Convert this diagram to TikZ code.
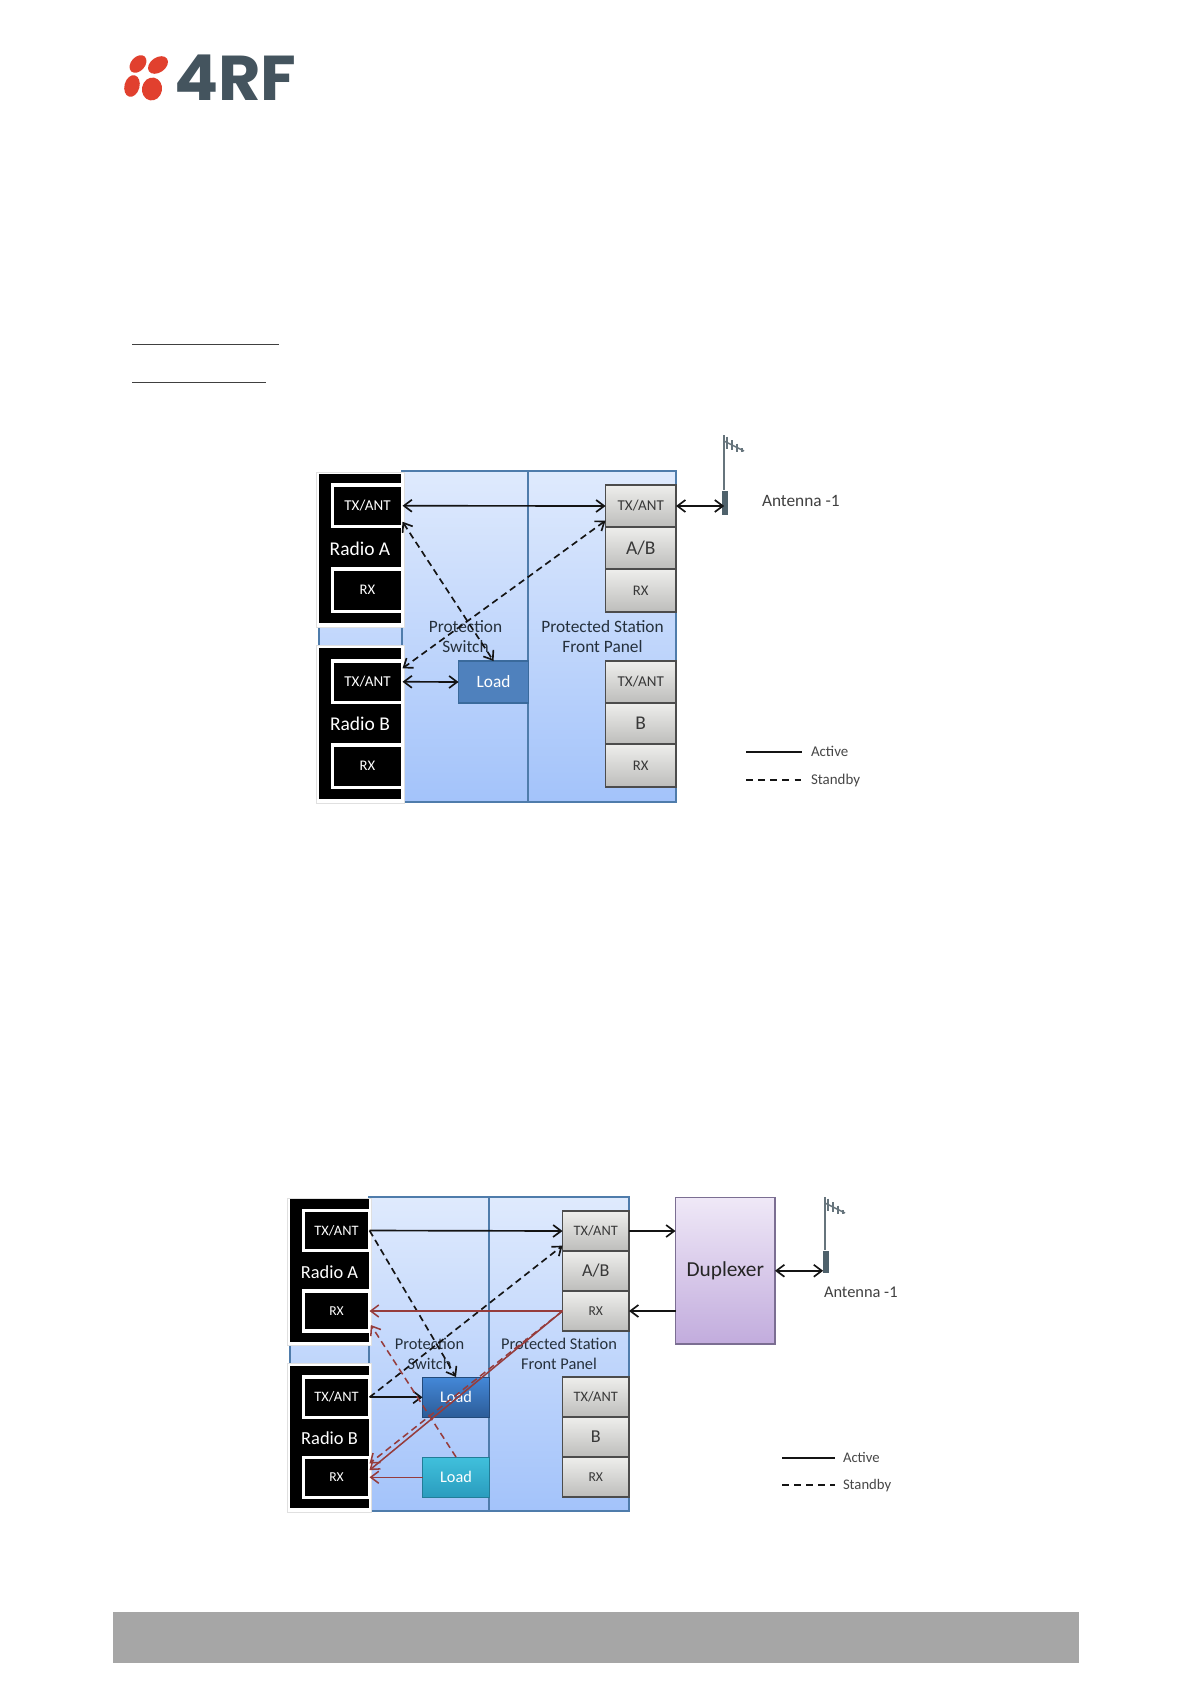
\documentclass[tikz,border=0pt]{standalone}
\usepackage{fontspec}
\setmainfont{Carlito}
\newfontfamily\logofont{Poppins}
\usetikzlibrary{arrows.meta,shadows,calc}
\newcommand\bx[7]{\node[#1,minimum width={(#5-#3)*0.75pt},minimum height={(#6-#4)*0.75pt}] (#2) at ({(#3+#5)/2},{(#4+#6)/2}) {#7};}
\newcommand\lb[2]{\raisebox{-.7pt}{\fontsize{#1}{#1}\selectfont #2}}
\newcommand\mast[3]{% x, top y, mast bottom y
  \draw[mastline,line width=1.4pt] (#1,#2) -- (#1,#3);
  \draw[mastline] (#1,#2+6) -- ++(20,10);
  \foreach \d/\l in {3/6,8/5,13/4,18/2}{\draw[mastline] (#1+\d,#2+6+\d/2-\l) -- ++(0,2*\l);}
}
\tikzset{
  every node/.style={inner sep=0pt,outer sep=0pt},
  >={Straight Barb[length=6pt,width=9pt,line width=1.25pt]},
  conn/.style={line width=1.25pt,black!92},
  dashconn/.style={conn,dash pattern=on 5pt off 3.2pt},
  redconn/.style={conn,draw=redc,line width=1.15pt,>={Straight Barb[length=6pt,width=9pt,line width=1.15pt]}},
  reddash/.style={redconn,dash pattern=on 5pt off 3.2pt},
  panel/.style={draw=panelline,line width=0.85pt,top color=paneltop,bottom color=panelbot,shading angle=0},
  radioouter/.style={fill=white,draw=black!12,line width=.4pt,drop shadow={shadow xshift=1pt,shadow yshift=-1pt,fill=black!35,opacity=.5}},
  radiofill/.style={fill=black},
  port/.style={fill=black,draw=white,line width=2.6pt,text=white,align=center},
  stackbox/.style={draw=black!70,line width=.85pt,top color=stacktop,bottom color=stackbot,text=black!78,drop shadow={shadow xshift=.8pt,shadow yshift=-.8pt,fill=black!30,opacity=.5}},
  loadflat/.style={fill=loadblue,draw=loadedge,line width=1.2pt,text=white},
  loaddark/.style={top color=loadA,bottom color=loadB,draw=loadB!80!black,line width=.5pt,text=white},
  loadcyan/.style={top color=cyanA,bottom color=cyanB,draw=cyanB!80!black,line width=.5pt,text=white},
  duplexbox/.style={top color=dupA,bottom color=dupB,draw=dupE,line width=1pt,text=black!85,drop shadow={shadow xshift=1pt,shadow yshift=-1pt,fill=black!30,opacity=.5}},
  plabel/.style={text=labelc,align=center},
  mastline/.style={draw=mastc,line width=1.1pt},
  antbody/.style={fill=bodyc},
  legendtxt/.style={text=black!72,anchor=west},
  rule/.style={draw=black!75,line width=.7pt},
}
\definecolor{panelline}{HTML}{4F7CAB}
\definecolor{paneltop}{HTML}{DFEAFD}
\definecolor{panelbot}{HTML}{A3C3FA}
\definecolor{stacktop}{HTML}{EEEEEC}
\definecolor{stackbot}{HTML}{BDBDBB}
\definecolor{loadblue}{HTML}{4F81BD}
\definecolor{loadedge}{HTML}{3A6A9C}
\definecolor{loadA}{HTML}{4488D8}
\definecolor{loadB}{HTML}{2C5C98}
\definecolor{cyanA}{HTML}{40C0DC}
\definecolor{cyanB}{HTML}{2A9CBE}
\definecolor{dupA}{HTML}{EFE8F7}
\definecolor{dupB}{HTML}{C2ACDD}
\definecolor{dupE}{HTML}{7B6E92}
\definecolor{labelc}{HTML}{25303C}
\definecolor{mastc}{HTML}{66747C}
\definecolor{bodyc}{HTML}{4F626C}
\definecolor{logored}{HTML}{E1402E}
\definecolor{logogrey}{HTML}{44545E}
\definecolor{redc}{HTML}{963C3C}
\begin{document}
\begin{tikzpicture}[x=0.75pt,y=-0.75pt]
\useasboundingbox (0,0) rectangle (1191,1683);
\fill[white] (0,0) rectangle (1191,1683);
% ---------- logo
\fill[logored,rotate around={48:(138,64)}] (138,64) ellipse [x radius=10,y radius=7];
\fill[logored,rotate around={35:(158,65)}] (158,65) ellipse [x radius=11,y radius=7.5];
\fill[logored,rotate around={75:(132,86)}] (132,86) ellipse [x radius=11,y radius=7.5];
\fill[logored,rotate around={80:(152,89)}] (152,89) ellipse [x radius=11.5,y radius=10];
\node[text=logogrey,anchor=base west] (logo) at (174,101) {\scalebox{1.03}[1]{\logofont\bfseries\fontsize{47.5}{47.5}\selectfont 4RF}};
% ---------- rules and footer
\coordinate (r1a) at (132,344); \coordinate (r1b) at (279,344);
\coordinate (r2a) at (132,382); \coordinate (r2b) at (266,382);
\draw[rule] (r1a) -- (r1b);
\draw[rule] (r2a) -- (r2b);
\bx{fill=black!35}{footer}{113}{1612}{1079}{1662.5}{}
% ================ TOP DIAGRAM
\bx{panel}{pT0}{319}{490}{402}{790}{}
\bx{panel}{pT1}{402}{471}{528}{802}{}
\bx{panel}{pT2}{528}{471}{676}{802}{}
% radios
\bx{radioouter}{aO}{316}{472}{404}{627}{}
\bx{radiofill}{aK}{319}{474}{401}{623}{}
\bx{radioouter}{bO}{316}{645}{404}{803}{}
\bx{radiofill}{bK}{319}{648}{401}{799}{}
\bx{port}{aTx}{332.5}{485}{402.5}{526.5}{\lb{11.3}{TX/ANT}}
\bx{port}{aRx}{332.5}{569}{402.5}{611.5}{\lb{11}{RX}}
\bx{port}{bTx}{332.5}{661}{402.5}{702.5}{\lb{11.3}{TX/ANT}}
\bx{port}{bRx}{332.5}{745}{402.5}{787.5}{\lb{11}{RX}}
\node[text=white] (aLab) at (360,548.5) {\fontsize{14.6}{15}\selectfont Radio A};
\node[text=white] (bLab) at (360,724) {\fontsize{14.6}{15}\selectfont Radio B};
% right stack
\bx{stackbox}{sTx}{605.5}{485}{676}{527}{\lb{11.3}{TX/ANT}}
\bx{stackbox}{sAB}{605.5}{527}{676}{569}{\lb{14.6}{A/B}}
\bx{stackbox}{sRx}{605.5}{569}{676}{612}{\lb{11}{RX}}
\bx{stackbox}{tTx}{605.5}{661}{676}{703}{\lb{11.3}{TX/ANT}}
\bx{stackbox}{tB}{605.5}{703}{676}{744}{\lb{14.6}{B}}
\bx{stackbox}{tRx}{605.5}{744}{676}{787}{\lb{11}{RX}}
\bx{loadflat}{load}{458.5}{661}{528.5}{703}{\lb{13}{Load}}
\node[plabel,font=\fontsize{13}{15.5}\selectfont] (sw) at (465.5,636.5) {Protection\\Switch};
\node[plabel,font=\fontsize{13}{15.5}\selectfont] (fp) at (602.5,636.5) {Protected Station\\Front Panel};
% antenna
\mast{724}{435}{490}
\bx{antbody}{ant}{721.5}{491}{728}{515}{}
\node[text=black!75,anchor=west] (antT) at (762,500.5) {\fontsize{13}{13}\selectfont Antenna -1};
% arrows
\draw[conn,<->] (aTx.east) -- (sTx.west);
\draw[dashconn,<->] ([yshift=-12pt]aTx.east) -- (load.north);
\draw[dashconn,<->] ([yshift=-11pt]sTx.west) -- ([yshift=10pt]bTx.east);
\draw[conn,<->] (bTx.east) -- (load.west);
\draw[conn,<->] (sTx.east) -- ([xshift=2pt]ant.west |- sTx.east);
% legend
\coordinate (l1a) at (746,752); \coordinate (l1b) at (802,752);
\coordinate (l2a) at (746,780); \coordinate (l2b) at (802,780);
\draw[conn] (l1a) -- (l1b);
\draw[conn,dash pattern=on 5pt off 4.1pt] (l2a) -- (l2b);
\node[legendtxt] (l1t) at (811,751.5) {\fontsize{11.2}{12}\selectfont Active};
\node[legendtxt] (l2t) at (811,780.5) {\fontsize{11.2}{12}\selectfont Standby};
% ================ BOTTOM DIAGRAM
\bx{panel}{qT0}{290}{1210}{369}{1500}{}
\bx{panel}{qT1}{369}{1197}{489}{1511}{}
\bx{panel}{qT2}{489}{1197}{629}{1511}{}
\bx{radioouter}{cO}{287.5}{1198}{371}{1345}{}
\bx{radiofill}{cK}{290}{1199}{369}{1342}{}
\bx{radioouter}{dO}{287.5}{1363}{371}{1512}{}
\bx{radiofill}{dK}{290}{1366}{369}{1508}{}
\bx{port}{cTx}{303.5}{1210.5}{369.5}{1250.5}{\lb{10.8}{TX/ANT}}
\bx{port}{cRx}{303.5}{1291}{369.5}{1331}{\lb{10.2}{RX}}
\bx{port}{dTx}{303.5}{1377}{369.5}{1417.5}{\lb{10.8}{TX/ANT}}
\bx{port}{dRx}{303.5}{1457.5}{369.5}{1497.5}{\lb{10.2}{RX}}
\node[text=white] (cLab) at (329.5,1272) {\fontsize{13.8}{15}\selectfont Radio A};
\node[text=white] (dLab) at (329.5,1438) {\fontsize{13.8}{15}\selectfont Radio B};
\bx{stackbox}{uTx}{562.5}{1211}{629}{1251}{\lb{10.8}{TX/ANT}}
\bx{stackbox}{uAB}{562.5}{1251}{629}{1291}{\lb{13.6}{A/B}}
\bx{stackbox}{uRx}{562.5}{1291}{629}{1331}{\lb{10.2}{RX}}
\bx{stackbox}{vTx}{562.5}{1377}{629}{1417}{\lb{10.8}{TX/ANT}}
\bx{stackbox}{vB}{562.5}{1417}{629}{1457}{\lb{13.6}{B}}
\bx{stackbox}{vRx}{562.5}{1457}{629}{1497}{\lb{10.2}{RX}}
\bx{loaddark}{loadA}{422.5}{1377}{489.5}{1417.5}{\lb{12.2}{Load}}
\bx{loadcyan}{loadB}{422.5}{1457}{489.5}{1497.5}{\lb{12.2}{Load}}
\node[plabel,font=\fontsize{12.3}{15}\selectfont] (sw2) at (429.5,1354) {Protection\\Switch};
\node[plabel,font=\fontsize{12.3}{15}\selectfont] (fp2) at (559,1354) {Protected Station\\Front Panel};
\bx{duplexbox}{dup}{675.5}{1197.5}{775}{1344}{\raisebox{-1.4pt}{\fontsize{16}{17}\selectfont Duplexer}}
\mast{825}{1197}{1250}
\bx{antbody}{ant2}{822.5}{1251}{828.5}{1273}{}
\node[text=black!75,anchor=west] (antT2) at (824,1292.5) {\fontsize{12.3}{13}\selectfont Antenna -1};
% arrows
\draw[conn,->] (cTx.east) -- (uTx.west);
\draw[dashconn,->] (cTx.east) -- (loadA.north);
\draw[dashconn,->] (dTx.east) -- ([yshift=-11pt]uTx.west);
\draw[conn,->] (dTx.east) -- (loadA.west);
\draw[conn,->] (uTx.east) -- (dup.west |- uTx.east);
\draw[conn,->] (dup.west |- uRx.east) -- (uRx.east);
\draw[conn,<->] (dup.east) -- ([xshift=.5pt]ant2.west |- dup.east);
\draw[redconn,->] (uRx.west) -- (cRx.east);
\draw[reddash,->] (loadB.north) -- ([yshift=4.5pt,xshift=1pt]cRx.south east);
\draw[reddash,->] (uRx.west) -- ([yshift=10.5pt]dRx.east);
\draw[redconn,->] (uRx.west) -- ([yshift=5.5pt]dRx.east);
\draw[redconn,->] (loadB.west) -- (dRx.east |- loadB.west);
% legend
\coordinate (m1a) at (782,1458); \coordinate (m1b) at (835,1458);
\coordinate (m2a) at (782,1485); \coordinate (m2b) at (835,1485);
\draw[conn] (m1a) -- (m1b);
\draw[conn,dash pattern=on 5pt off 4pt] (m2a) -- (m2b);
\node[legendtxt] (m1t) at (843,1457.5) {\fontsize{11}{12}\selectfont Active};
\node[legendtxt] (m2t) at (843,1485.5) {\fontsize{11}{12}\selectfont Standby};
\end{tikzpicture}
\end{document}
